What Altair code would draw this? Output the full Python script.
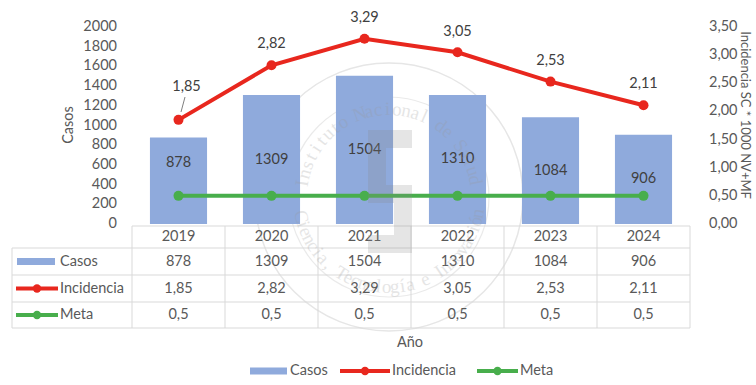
import math
import altair as alt
import pandas as pd

# ---------------- data ----------------
years = ["2019", "2020", "2021", "2022", "2023", "2024"]
casos = [878, 1309, 1504, 1310, 1084, 906]
incidencia = [1.85, 2.82, 3.29, 3.05, 2.53, 2.11]
meta = [0.5, 0.5, 0.5, 0.5, 0.5, 0.5]
series_names = ["Casos", "Incidencia", "Meta"]
left_ticks = [0, 200, 400, 600, 800, 1000, 1200, 1400, 1600, 1800, 2000]
right_ticks = [0.0, 0.5, 1.0, 1.5, 2.0, 2.5, 3.0, 3.5]
left_title = "Casos"
right_title = "Incidencia SC * 1000 NV+MF"
x_title = "Año"
seal_top = "Instituto Nacional de Salud"
seal_bottom = "Ciencia, Tecnología e Innovación"

# ---------------- style ----------------
W, H = 558, 197
FONT = "Lato"
TXT = "#595959"
DARK = "#404040"
BAR = "#8FAADC"
RED = "#E8271E"
GREEN = "#48AE4C"
BORDER = "#D9D9D9"
FS = 14.5

df = pd.DataFrame({
    "idx": list(range(len(years))),
    "year": years,
    "casos": casos,
    "incid": incidencia,
    "meta": meta,
})
df["casos_lab"] = [str(v) for v in casos]
df["incid_lab"] = [f"{v:.2f}".replace(".", ",") for v in incidencia]
df["meta_lab"] = [f"{v:g}".replace(".", ",") for v in meta]
# label placement (bar labels centred in bar, the first one raised as in the original)
df["lab_pos"] = df["casos"] / 2
df.loc[0, "lab_pos"] = 620
df["incid_lab_at"] = df["incid"] + 0.37
df.loc[0, "incid_lab_at"] = df.loc[0, "incid"] + 0.58
df["incid_lab_x"] = df["idx"].astype(float)
df.loc[0, "incid_lab_x"] = 0.086

lt = pd.DataFrame({"v": left_ticks, "lab": [str(v) for v in left_ticks]})
rt = pd.DataFrame({"v": right_ticks, "lab": [f"{v:.2f}".replace(".", ",") for v in right_ticks]})

xs = alt.Scale(domain=[-0.5, len(years) - 0.5])
X = alt.X("idx:Q", scale=xs, axis=None)
ls = alt.Scale(domain=[0, 2000])
rs = alt.Scale(domain=[0, 3.5])
base = alt.Chart(df)
one = df.head(1)

# ---------------- watermark (seal) ----------------
CX, CY = 257, 170
def ring(diam, color, sw):
    return alt.Chart(one).mark_point(shape="circle", size=diam * diam, stroke=color,
                                      strokeWidth=sw, filled=False, opacity=1).encode(
        x=alt.value(CX), y=alt.value(CY))

def arc_chars(text, t0, t1, r, top):
    rows = []
    n = len(text)
    for i, ch in enumerate(text):
        t = t0 + (t1 - t0) * (i + 0.5) / n
        rad = math.radians(t)
        ang = (90 - t) if top else (270 - t)
        rows.append({"ch": ch, "px": CX + r * math.cos(rad), "py": CY - r * math.sin(rad),
                     "ang": ang % 360})
    return pd.DataFrame(rows)

seal_chars = pd.concat([
    arc_chars(seal_top, 174, 8, 88, True),
    arc_chars(seal_bottom, 190, 352, 90, False),
])
seal_text = alt.Chart(seal_chars).mark_text(
    font="Liberation Serif", fontSize=19, color="#9A9A9A", opacity=0.25,
    baseline="middle", align="center").encode(
    x=alt.X("px:Q", scale=None), y=alt.Y("py:Q", scale=None),
    angle=alt.Angle("ang:Q", scale=None), text="ch:N")

logo_rects = pd.DataFrame({
    "x0": [236, 236, 236, 262, 236], "x1": [280, 254, 280, 280, 280],
    "y0": [103, 121, 158, 176, 208], "y1": [121, 158, 176, 208, 226],
})
logo = alt.Chart(logo_rects).mark_rect(color="#8A8A8A", opacity=0.22).encode(
    x=alt.X("x0:Q", scale=None), x2="x1:Q", y=alt.Y("y0:Q", scale=None), y2="y1:Q")

rings = alt.layer(ring(268, "#E6E6E6", 1.5), ring(200, "#EAEAEA", 1.2))

# ---------------- left: bars ----------------
bars = base.transform_calculate(
    x0="datum.idx - 0.307", x1="datum.idx + 0.307"
).mark_rect(color=BAR).encode(
    x=alt.X("x0:Q", scale=xs, axis=None),
    x2="x1:Q",
    y=alt.Y("casos:Q", scale=ls, axis=None),
    y2=alt.datum(0),
)
bar_labels = base.mark_text(font=FONT, fontSize=FS, color=DARK).encode(
    x=X, y=alt.Y("lab_pos:Q", scale=ls, axis=None), text="casos_lab:N")
left_axis = alt.Chart(lt).mark_text(font=FONT, fontSize=FS, color=TXT, align="right",
                                    baseline="middle").encode(
    x=alt.value(-15), y=alt.Y("v:Q", scale=ls, axis=None), text="lab:N")
left = alt.layer(bars, bar_labels, left_axis)

# ---------------- right: lines ----------------
red_line = base.mark_line(color=RED, strokeWidth=4).encode(
    x=X, y=alt.Y("incid:Q", scale=rs, axis=None))
red_pts = base.mark_point(filled=True, size=100, color=RED, opacity=1).encode(
    x=X, y=alt.Y("incid:Q", scale=rs, axis=None))
red_labels = base.mark_text(font=FONT, fontSize=FS, color=DARK).encode(
    x=alt.X("incid_lab_x:Q", scale=xs, axis=None),
    y=alt.Y("incid_lab_at:Q", scale=rs, axis=None), text="incid_lab:N")
leader = alt.Chart(one).transform_calculate(
    lx0="0.07", lx1="0.027", ly0="2.256", ly1="1.99"
).mark_rule(color="#7F7F7F", strokeWidth=1).encode(
    x=alt.X("lx0:Q", scale=xs, axis=None), x2="lx1:Q",
    y=alt.Y("ly0:Q", scale=rs, axis=None), y2="ly1:Q")
green_line = base.mark_line(color=GREEN, strokeWidth=4).encode(
    x=X, y=alt.Y("meta:Q", scale=rs, axis=None))
green_pts = base.mark_point(filled=True, size=100, color=GREEN, opacity=1).encode(
    x=X, y=alt.Y("meta:Q", scale=rs, axis=None))
right_axis = alt.Chart(rt).mark_text(font=FONT, fontSize=FS, color=TXT, align="left",
                                     baseline="middle").encode(
    x=alt.value(W + 19), y=alt.Y("v:Q", scale=rs, axis=None), text="lab:N")
right = alt.layer(red_line, red_pts, red_labels, leader, green_line, green_pts, right_axis)

# ---------------- data table ----------------
ROW_TOP, R1, R2, R3, R_BOT = 199, 221, 248, 275, 301
C_HEAD, C1, C2, C3 = 210, 234.5, 261.5, 288
LEFT_X = -120

def ttext(field, yv):
    return base.mark_text(font=FONT, fontSize=FS, color=TXT).encode(
        x=X, y=alt.value(yv), text=f"{field}:N")

table_txt = [ttext("year", C_HEAD), ttext("casos_lab", C1), ttext("incid_lab", C2), ttext("meta_lab", C3)]

edges = pd.DataFrame({"e": [i - 0.5 for i in range(len(years) + 1)]})
vrules = alt.Chart(edges).mark_rule(color=BORDER, strokeWidth=1).encode(
    x=alt.X("e:Q", scale=xs, axis=None), y=alt.value(ROW_TOP), y2=alt.value(R_BOT))

def hrule(yv, x0):
    return alt.Chart(one).mark_rule(color=BORDER, strokeWidth=1).encode(
        x=alt.value(x0), x2=alt.value(W), y=alt.value(yv))

hrules = [hrule(ROW_TOP, 0)] + [hrule(v, LEFT_X) for v in (R1, R2, R3, R_BOT)]
left_border = alt.Chart(one).mark_rule(color=BORDER, strokeWidth=1).encode(
    x=alt.value(LEFT_X), y=alt.value(R1), y2=alt.value(R_BOT))

def label(txt, xv, yv, align="left", color=TXT, angle=None, size=FS):
    kw = dict(font=FONT, fontSize=size, color=color, align=align, baseline="middle")
    if angle is not None:
        kw["angle"] = angle
    return alt.Chart(one).mark_text(**kw).encode(
        x=alt.value(xv), y=alt.value(yv), text=alt.value(txt))

def swatch(x0, x1, yc):
    return alt.Chart(one).mark_rect(color=BAR).encode(
        x=alt.value(x0), x2=alt.value(x1), y=alt.value(yc - 3.5), y2=alt.value(yc + 3.5))

def linekey(x0, x1, yc, color):
    return alt.layer(
        alt.Chart(one).mark_rule(color=color, strokeWidth=4).encode(
            x=alt.value(x0), x2=alt.value(x1), y=alt.value(yc)),
        alt.Chart(one).mark_point(filled=True, size=70, color=color, opacity=1).encode(
            x=alt.value((x0 + x1) / 2), y=alt.value(yc)),
    )

table_keys = [
    swatch(-115, -77, C1), label(series_names[0], -72, C1),
    linekey(-116, -74, C2, RED), label(series_names[1], -72, C2),
    linekey(-116, -74, C3, GREEN), label(series_names[2], -72, C3),
]

# ---------------- axis titles, x title, legend ----------------
LY = 344
extras = [
    label(left_title, -63, 98, align="center", angle=270),
    label(right_title, 613, 88, align="center", angle=90, size=13),
    label(x_title, 278, 316, align="center"),
    swatch(118, 155, LY), label(series_names[0], 158, LY),
    linekey(208, 258, LY, RED), label(series_names[1], 260, LY),
    linekey(345, 386, LY, GREEN), label(series_names[2], 388, LY),
]

chart = alt.layer(
    rings, left, right, vrules, *hrules, left_border, *table_txt, *table_keys, *extras,
    seal_text, logo,
).resolve_scale(y="independent").properties(
    width=W, height=H,
    background="white",
    autosize=alt.AutoSizeParams(type="none"),
    padding={"left": 132, "top": 27, "right": 66, "bottom": 161},
).configure_view(strokeWidth=0, stroke="transparent")

chart.save("out.html", embed_options={"renderer": "svg", "actions": False})
